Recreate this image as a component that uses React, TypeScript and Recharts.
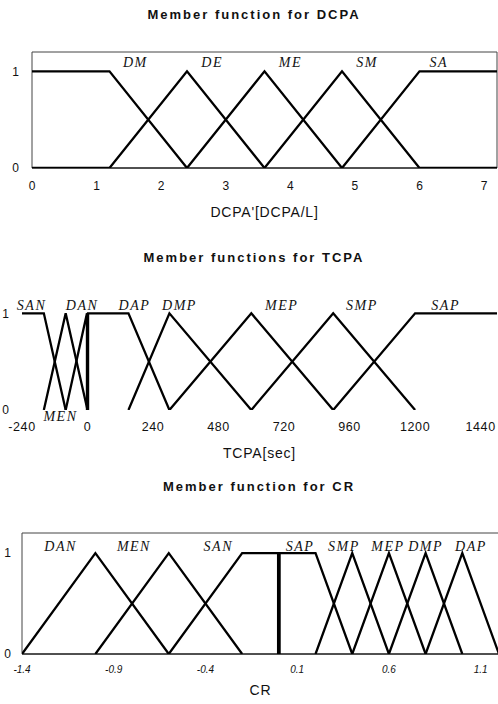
import { Line, LineChart, ReferenceArea, ReferenceDot, XAxis, YAxis } from "recharts";

type Pt = [number, number];

// DCPA membership functions (x in DCPA/L)
const dcpaDM: Pt[] = [[0, 1], [1.2, 1], [2.4, 0]];
const dcpaDE: Pt[] = [[0, 0], [1.2, 0], [2.4, 1], [3.6, 0]];
const dcpaME: Pt[] = [[2.4, 0], [3.6, 1], [4.8, 0]];
const dcpaSM: Pt[] = [[3.6, 0], [4.8, 1], [6, 0], [7.2, 0]];
const dcpaSA: Pt[] = [[4.8, 0], [6, 1], [7.2, 1]];
const dcpaTicks = [0, 1, 2, 3, 4, 5, 6, 7];
const dcpaNames = ["DM", "DE", "ME", "SM", "SA"];
const dcpaNameX = [1.6, 2.79, 4.0, 5.19, 6.3];

// TCPA membership functions (x in sec)
const tcpaSAN: Pt[] = [[-240, 1], [-160, 1], [-80, 0]];
const tcpaMEN: Pt[] = [[-160, 0], [-80, 1], [0, 0]];
const tcpaDAN: Pt[] = [[-80, 0], [-2, 1], [-2, 0]];
const tcpaDAP: Pt[] = [[2, 0], [2, 1], [150, 1], [300, 0]];
const tcpaDMP: Pt[] = [[150, 0], [300, 1], [600, 0]];
const tcpaMEP: Pt[] = [[300, 0], [600, 1], [900, 0]];
const tcpaSMP: Pt[] = [[600, 0], [900, 1], [1200, 0]];
const tcpaSAP: Pt[] = [[900, 0], [1200, 1], [1500, 1]];
const tcpaTicks = [-240, 0, 240, 480, 720, 960, 1200, 1440];
const tcpaNames = ["SAN", "MEN", "DAN", "DAP", "DMP", "MEP", "SMP", "SAP"];
const tcpaNameX = [-205, -99, -20, 172, 337, 711, 1005, 1312];
const tcpaNameY = [1.08, -0.07, 1.08, 1.08, 1.08, 1.08, 1.08, 1.08];

// CR membership functions
const crDAN: Pt[] = [[-1.4, 0], [-1.0, 1], [-0.6, 0]];
const crMEN: Pt[] = [[-1.0, 0], [-0.6, 1], [-0.2, 0]];
const crSAN: Pt[] = [[-0.6, 0], [-0.2, 1], [-0.004, 1], [-0.004, 0]];
const crSAP: Pt[] = [[0.004, 0], [0.004, 1], [0.2, 1], [0.4, 0]];
const crSMP: Pt[] = [[0.2, 0], [0.4, 1], [0.6, 0]];
const crMEP: Pt[] = [[0.4, 0], [0.6, 1], [0.8, 0]];
const crDMP: Pt[] = [[0.6, 0], [0.8, 1], [1.0, 0]];
const crDAP: Pt[] = [[0.8, 0], [1.0, 1], [1.2, 0]];
const crTicks = [-1.4, -0.9, -0.4, 0.1, 0.6, 1.1];
const crNames = ["DAN", "MEN", "SAN", "SAP", "SMP", "MEP", "DMP", "DAP"];
const crNameX = [-1.19, -0.79, -0.33, 0.115, 0.355, 0.595, 0.8, 1.047];

const sans = "'Liberation Sans', Arial, sans-serif";
const serif = "'Liberation Serif', 'Times New Roman', serif";

const rows = (pts: Pt[]) => pts.map(([x, y]) => ({ x, y }));

type ChartProps = {
  top: number;
  width: number;
  height: number;
  margin: { top: number; right: number; bottom: number; left: number };
  domain: [number, number];
  ticks: number[];
  series: Pt[][];
  names: string[];
  nameX: number[];
  nameY: number[];
  xTitle: string;
  xHeight: number;
  titleOffset: number;
  tickMargin: number;
  yTickMargin: number;
  yWidth: number;
  tickStyle: React.CSSProperties;
  box: boolean;
};

const MembershipChart = (p: ChartProps) => (
  <div style={ { position: "absolute", left: 0, top: p.top } }>
    <LineChart width={ p.width } height={ p.height } margin={ p.margin }>
      <XAxis
        dataKey="x"
        type="number"
        domain={ p.domain }
        ticks={ p.ticks }
        allowDataOverflow
        axisLine={ p.box ? { stroke: "#000", strokeWidth: 1.2 } : false }
        tickLine={ false }
        tickMargin={ p.tickMargin }
        height={ p.xHeight }
        tick={ { fill: "#111", ...p.tickStyle } as any }
        label={ { value: p.xTitle, position: "insideBottom", offset: p.titleOffset, fill: "#111", fontSize: 14, fontFamily: sans, letterSpacing: 0.8 } as any }
      />
      <YAxis
        type="number"
        domain={ [0, 1.2] }
        ticks={ [0, 1] }
        allowDataOverflow
        axisLine={ false }
        tickLine={ false }
        width={ p.yWidth }
        tickMargin={ p.yTickMargin }
        tick={ { fill: "#111", fontSize: 12, fontFamily: sans } }
      />
      { p.box && (
        <ReferenceArea x1={ p.domain[0] } x2={ p.domain[1] } y1={ 0 } y2={ 1.2 } fill="none" stroke="#444" strokeWidth={ 1 } ifOverflow="visible"/>
      ) }
      { p.series.map((s, i) => (
        <Line
          key={ p.names[i] }
          data={ rows(s) }
          dataKey="y"
          type="linear"
          stroke="#000"
          strokeWidth={ 2.3 }
          strokeLinejoin="miter"
          dot={ false }
          activeDot={ false }
          isAnimationActive={ false }
        />
      )) }
      { p.names.map((n, i) => (
        <ReferenceDot
          key={ "l" + n }
          x={ p.nameX[i] }
          y={ p.nameY[i] }
          r={ 0 }
          ifOverflow="visible"
          shape={ (s: any) => (
            <text x={ s.cx } y={ s.cy } textAnchor="middle" dominantBaseline="central"
              fontFamily={ serif } fontStyle="italic" fontSize={ 14 } letterSpacing={ 1.5 } fill="#111">{ n }</text>
          ) }
        />
      )) }
    </LineChart>
  </div>
);

const Title = ({ text, y, x }: { text: string; y: number; x: number }) => (
  <div style={ {
    position: "absolute", left: x - 150, top: y - 9, width: 300, textAlign: "center",
    fontFamily: sans, fontWeight: "bold", fontSize: 13, letterSpacing: 2, color: "#111", lineHeight: "18px",
  } }>{ text }</div>
);

const App = () => (
  <div style={ { position: "absolute", left: 0, top: 0, width: 498, height: 704, overflow: "hidden", background: "#fff" } }>
    <Title text="Member function for DCPA" x={ 254 } y={ 15 }/>
    <MembershipChart
      top={ 0 } width={ 498 } height={ 230 }
      margin={ { top: 52, right: 1, bottom: 2, left: 0 } }
      domain={ [0, 7.2] } ticks={ dcpaTicks }
      series={ [dcpaDM, dcpaDE, dcpaME, dcpaSM, dcpaSA] }
      names={ dcpaNames } nameX={ dcpaNameX } nameY={ dcpaNames.map(() => 1.09) }
      xTitle="DCPA'[DCPA/L]" xHeight={ 60 } titleOffset={ 11 }
      tickMargin={ 7 } yTickMargin={ 7 } yWidth={ 32 }
      tickStyle={ { fontSize: 12, fontFamily: sans } }
      box
    />
    <Title text="Member functions for TCPA" x={ 254 } y={ 258 }/>
    <MembershipChart
      top={ 240 } width={ 498 } height={ 230 }
      margin={ { top: 54, right: 1, bottom: 0, left: 0 } }
      domain={ [-240, 1500] } ticks={ tcpaTicks }
      series={ [tcpaSAN, tcpaMEN, tcpaDAN, tcpaDAP, tcpaDMP, tcpaMEP, tcpaSMP, tcpaSAP] }
      names={ tcpaNames } nameX={ tcpaNameX } nameY={ tcpaNameY }
      xTitle="TCPA[sec]" xHeight={ 60 } titleOffset={ 12 }
      tickMargin={ 6 } yTickMargin={ 7 } yWidth={ 22 }
      tickStyle={ { fontSize: 12.5, fontFamily: sans, letterSpacing: 0.6 } }
      box={ false }
    />
    <Title text="Member function for CR" x={ 259 } y={ 487 }/>
    <MembershipChart
      top={ 470 } width={ 499 } height={ 234 }
      margin={ { top: 63, right: 0, bottom: 0, left: 0 } }
      domain={ [-1.4, 1.2] } ticks={ crTicks }
      series={ [crDAN, crMEN, crSAN, crSAP, crSMP, crMEP, crDMP, crDAP] }
      names={ crNames } nameX={ crNameX } nameY={ crNames.map(() => 1.07) }
      xTitle="CR" xHeight={ 50 } titleOffset={ 9 }
      tickMargin={ 6 } yTickMargin={ 5 } yWidth={ 22 }
      tickStyle={ { fontSize: 10, fontFamily: sans, fontStyle: "italic" } }
      box
    />
  </div>
);

export default App;
